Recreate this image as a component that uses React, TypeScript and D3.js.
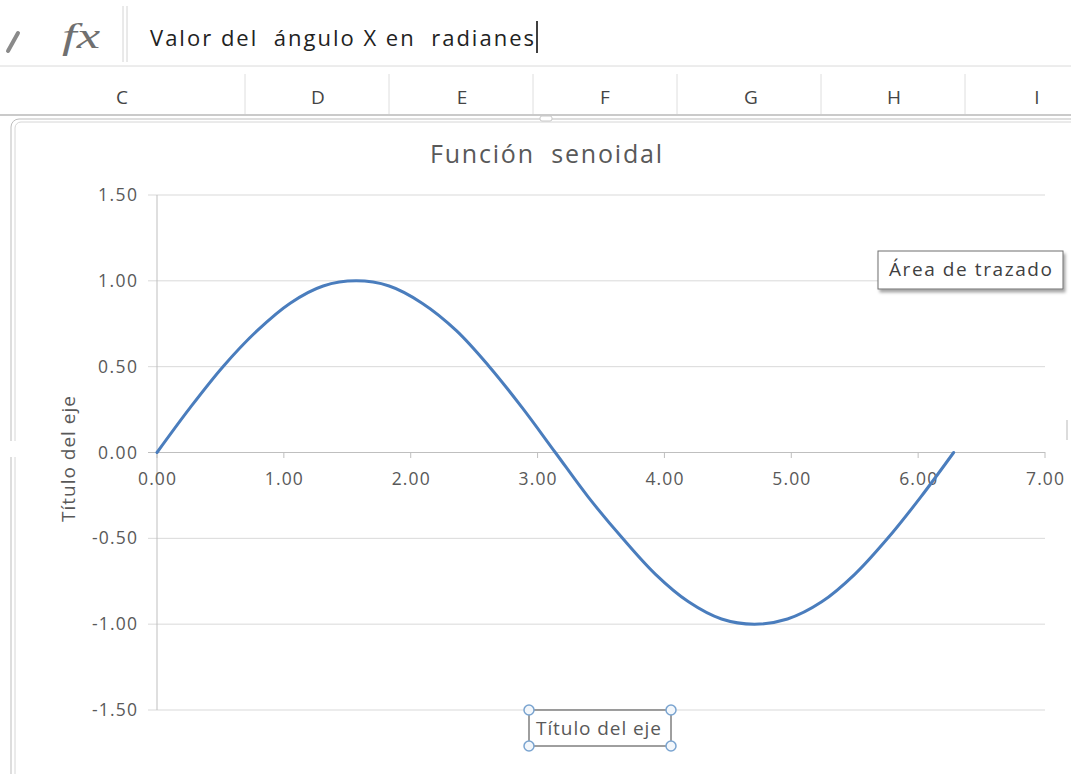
import React from "react";
import * as d3 from "d3";

const xValues = [0, 0.26, 0.52, 0.79, 1.05, 1.31, 1.57, 1.83, 2.09, 2.36, 2.62, 2.88, 3.14, 3.4, 3.67, 3.93, 4.19, 4.45, 4.71, 4.97, 5.24, 5.5, 5.76, 6.02, 6.28];
const yValues = [0, 0.26, 0.5, 0.71, 0.87, 0.97, 1.0, 0.97, 0.87, 0.71, 0.5, 0.26, 0.0, -0.26, -0.5, -0.71, -0.87, -0.97, -1.0, -0.97, -0.87, -0.71, -0.5, -0.26, 0.0];
const xTicks = [0, 1, 2, 3, 4, 5, 6, 7];
const yTicks = [1.5, 1.0, 0.5, 0.0, -0.5, -1.0, -1.5];
const columnLetters = ["C", "D", "E", "F", "G", "H", "I"];
const columnCenters = [122, 318, 462, 605, 751, 894, 1037];
const columnSeparators = [245, 389, 533, 677, 821, 965];

const chartTitle = "Función  senoidal";
const axisTitle = "Título del eje";
const formulaText = "Valor del  ángulo X en  radianes";
const tooltipText = "Área de trazado";

const FONT = "'Open Sans', 'Noto Sans', sans-serif";
const pre: React.CSSProperties = { whiteSpace: "pre" };

const fmt = (v: number) => v.toFixed(2);

export default function App() {
  const x = d3.scaleLinear().domain([0, 7]).range([157, 1045]);
  const y = d3.scaleLinear().domain([-1.5, 1.5]).range([710, 195]);
  const pts = xValues.map((v, i) => [v, yValues[i]] as [number, number]);
  const line = d3
    .line<[number, number]>()
    .x((d) => x(d[0]))
    .y((d) => y(d[1]))
    .curve(d3.curveCatmullRom.alpha(0.5));
  const tickColor = "#595959";
  const handles = [
    [529, 710],
    [671, 710],
    [529, 746],
    [671, 746],
  ];

  return (
    <svg
      width={1071}
      height={774}
      style={{ position: "absolute", left: 0, top: 0, display: "block" }}
      fontFamily={FONT}
    >
      <defs>
        <filter id="sh" x="-10%" y="-10%" width="130%" height="150%">
          <feDropShadow dx="2" dy="3" stdDeviation="1.5" floodColor="#000" floodOpacity="0.35" />
        </filter>
      </defs>
      <rect x={0} y={0} width={1071} height={774} fill="#ffffff" />

      {/* Formula bar */}
      <line x1={8} y1={51} x2={18} y2={33} stroke="#8a8a8a" strokeWidth={4} strokeLinecap="round" />
      <text x={62} y={48} fontFamily="'Liberation Serif', 'DejaVu Serif', serif" fontStyle="italic" fontSize={36} fill="#707070" textLength={38} lengthAdjust="spacingAndGlyphs">
        fx
      </text>
      <line x1={123} y1={6} x2={123} y2={62} stroke="#d4d4d4" strokeWidth={1} />
      <line x1={127} y1={6} x2={127} y2={62} stroke="#d4d4d4" strokeWidth={1} />
      <text x={150} y={46} fontSize={22} fill="#222" textLength={384} lengthAdjust="spacing" style={pre}>
        {formulaText}
      </text>
      <line x1={537} y1={21} x2={537} y2={53} stroke="#000" strokeWidth={1.5} />
      <line x1={0} y1={66} x2={1071} y2={66} stroke="#dadada" strokeWidth={1} />

      {/* Column headers */}
      {columnSeparators.map((s) => (
        <line key={s} x1={s} y1={74} x2={s} y2={114} stroke="#dedede" strokeWidth={1} />
      ))}
      {columnLetters.map((c, i) => (
        <text key={c} x={columnCenters[i]} y={104} textAnchor="middle" fontSize={19} fill="#444">
          {c}
        </text>
      ))}
      <line x1={0} y1={115} x2={1071} y2={115} stroke="#b8b8b8" strokeWidth={1.5} />

      {/* Chart frame */}
      <rect x={11} y={119} width={1080} height={700} rx={8} fill="#fff" stroke="#bdbdbd" strokeWidth={1} />
      <rect x={15} y={122} width={1080} height={700} rx={6} fill="none" stroke="#d6d6d6" strokeWidth={1} />
      <rect x={540} y={116} width={12} height={5} rx={2} fill="#fff" stroke="#c8c8c8" strokeWidth={1} />
      <rect x={0} y={441} width={19} height={16} fill="#fff" />
      <line x1={1067} y1={420} x2={1067} y2={440} stroke="#d0d0d0" strokeWidth={1.5} />

      {/* Title */}
      <text x={546} y={163} textAnchor="middle" fontSize={25} fill={tickColor} textLength={232} lengthAdjust="spacing" style={pre}>
        {chartTitle}
      </text>

      {/* Gridlines */}
      {yTicks.map((t) => (
        <line key={t} x1={148} x2={1045} y1={y(t)} y2={y(t)} stroke={t === 0 ? "#bfbfbf" : "#d9d9d9"} strokeWidth={1} />
      ))}
      {/* y axis line */}
      <line x1={157} x2={157} y1={195} y2={710} stroke="#bfbfbf" strokeWidth={1} />
      {/* x ticks */}
      {xTicks.map((t) => (
        <line key={t} x1={x(t)} x2={x(t)} y1={452} y2={458} stroke="#bfbfbf" strokeWidth={1} />
      ))}

      {/* Y tick labels */}
      {yTicks.map((t) => (
        <text key={t} x={137} y={y(t) + 6} textAnchor="end" fontSize={17.5} fill={tickColor} textLength={t < 0 ? 45 : 39} lengthAdjust="spacing">
          {fmt(t)}
        </text>
      ))}
      {/* X tick labels */}
      {xTicks.map((t) => (
        <text key={t} x={x(t) - 19} y={485} fontSize={17.5} fill={tickColor} textLength={38} lengthAdjust="spacing">
          {fmt(t)}
        </text>
      ))}

      {/* Series */}
      <path d={line(pts) ?? ""} fill="none" stroke="#4a7dbd" strokeWidth={3} strokeLinejoin="round" strokeLinecap="round" />

      {/* Y axis title */}
      <text transform={`translate(75, 459) rotate(-90)`} textAnchor="middle" fontSize={19} fill={tickColor} textLength={126} lengthAdjust="spacing">
        {axisTitle}
      </text>

      {/* X axis title with selection box */}
      <rect x={529} y={710} width={142} height={36} fill="#fff" stroke="#7f7f7f" strokeWidth={1.5} />
      <text x={536} y={735} fontSize={19} fill={tickColor} textLength={125} lengthAdjust="spacing">
        {axisTitle}
      </text>
      {handles.map(([hx, hy], i) => (
        <circle key={i} cx={hx} cy={hy} r={5} fill="#f3f7fb" stroke="#7aa4d0" strokeWidth={1.5} />
      ))}

      {/* Tooltip */}
      <g filter="url(#sh)">
        <rect x={878} y={251} width={185} height={38} fill="#fff" stroke="#6f6f6f" strokeWidth={1} />
      </g>
      <text x={889} y={276} fontSize={19} fill="#404040" textLength={163} lengthAdjust="spacing">
        {tooltipText}
      </text>
    </svg>
  );
}
